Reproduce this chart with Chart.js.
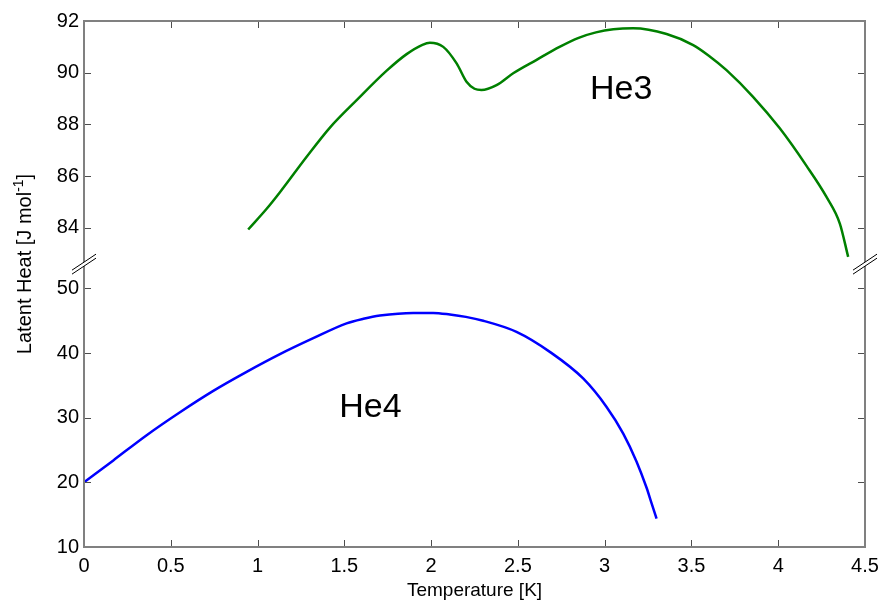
<!DOCTYPE html>
<html>
<head>
<meta charset="utf-8">
<script src="https://cdn.jsdelivr.net/npm/chart.js@4/dist/chart.umd.min.js"></script>
<style>
body { margin: 0; background: #fff; }
#cvs { display: block; }
</style>
</head>
<body>
<canvas id="cvs" width="883" height="605"></canvas>
<script>
// He3 curve (upper panel)
var he3Temp = [0.946, 1.05, 1.129, 1.283, 1.417, 1.571, 1.744, 1.859, 1.95, 1.993, 2.07, 2.147, 2.204, 2.25, 2.29, 2.377, 2.473, 2.608, 2.74, 2.85, 2.95, 3.05, 3.164, 3.357, 3.51, 3.6, 3.702, 3.855, 4.009, 4.163, 4.278, 4.355, 4.403];
var he3Heat = [83.94, 84.72, 85.38, 86.75, 87.88, 88.94, 90.08, 90.72, 91.08, 91.16, 91.0, 90.36, 89.65, 89.38, 89.33, 89.52, 89.98, 90.5, 91.0, 91.35, 91.56, 91.68, 91.72, 91.5, 91.07, 90.66, 90.1, 89.07, 87.85, 86.4, 85.2, 84.17, 82.88];
// He4 curve (lower panel)
var he4Temp = [0, 0.169, 0.361, 0.553, 0.745, 0.937, 1.129, 1.321, 1.513, 1.61, 1.705, 1.897, 2.012, 2.108, 2.2, 2.30, 2.492, 2.684, 2.876, 3.011, 3.107, 3.184, 3.241, 3.27, 3.299];
var he4Heat = [20.0, 23.4, 27.3, 30.85, 34.15, 37.09, 39.83, 42.3, 44.6, 45.3, 45.8, 46.22, 46.22, 45.97, 45.6, 45.0, 43.28, 40.19, 36.07, 31.67, 27.55, 23.2, 19.2, 16.8, 14.40];

var xTicks = [0, 0.5, 1, 1.5, 2, 2.5, 3, 3.5, 4, 4.5];
var yLowTicks = [10, 20, 30, 40, 50];
var yHighTicks = [84, 86, 88, 90, 92];

var labels = [
	{ text: "He3", x: 2.915, y: 89.0, axis: "yHi" },
	{ text: "He4", x: 1.471, y: 30.1, axis: "yLo" }
];

function pts(xs, ys) {
	return xs.map(function (x, i) { return { x: x, y: ys[i] }; });
}

var FONT = "'Liberation Sans', Arial, sans-serif";
var AXIS_COL = "#808080";
var TICK_COL = "#4d4d4d";

// box, inward ticks, axis break marks, text
var decor = {
	id: "decor",
	afterDraw: function (chart) {
		var ctx = chart.ctx;
		var a = chart.chartArea;
		var xs = chart.scales.x, lo = chart.scales.yLo, hi = chart.scales.yHi;
		ctx.save();

		ctx.strokeStyle = TICK_COL;
		ctx.lineWidth = 1;
		ctx.beginPath();
		xTicks.forEach(function (v) {
			var px = Math.round(xs.getPixelForValue(v)) + 0.5;
			ctx.moveTo(px, a.bottom); ctx.lineTo(px, a.bottom - 7);
			ctx.moveTo(px, a.top); ctx.lineTo(px, a.top + 7);
		});
		yLowTicks.forEach(function (v) {
			var py = Math.round(lo.getPixelForValue(v)) + 0.5;
			ctx.moveTo(a.left, py); ctx.lineTo(a.left + 7, py);
			ctx.moveTo(a.right, py); ctx.lineTo(a.right - 7, py);
		});
		yHighTicks.forEach(function (v) {
			var py = Math.round(hi.getPixelForValue(v)) + 0.5;
			ctx.moveTo(a.left, py); ctx.lineTo(a.left + 7, py);
			ctx.moveTo(a.right, py); ctx.lineTo(a.right - 7, py);
		});
		ctx.stroke();

		ctx.strokeStyle = AXIS_COL;
		ctx.lineWidth = 2;
		ctx.strokeRect(a.left, a.top, a.right - a.left, a.bottom - a.top);

		// break marks where the two y scales meet
		var yb = hi.bottom;
		[a.left, a.right].forEach(function (cx) {
			ctx.fillStyle = "#fff";
			ctx.beginPath();
			ctx.moveTo(cx - 12, yb + 6); ctx.lineTo(cx + 12, yb - 10);
			ctx.lineTo(cx + 12, yb - 6); ctx.lineTo(cx - 12, yb + 10);
			ctx.closePath();
			ctx.fill();
			ctx.strokeStyle = "#000";
			ctx.lineWidth = 1;
			ctx.beginPath();
			ctx.moveTo(cx - 12, yb + 6); ctx.lineTo(cx + 12, yb - 10);
			ctx.moveTo(cx - 12, yb + 10); ctx.lineTo(cx + 12, yb - 6);
			ctx.stroke();
		});

		ctx.fillStyle = "#000";
		ctx.font = "34px " + FONT;
		ctx.textAlign = "left";
		ctx.textBaseline = "alphabetic";
		labels.forEach(function (l) {
			ctx.fillText(l.text, xs.getPixelForValue(l.x), chart.scales[l.axis].getPixelForValue(l.y));
		});

		// y title with superscript
		ctx.translate(31, 264);
		ctx.rotate(-Math.PI / 2);
		var main = "Latent Heat [J mol", sup = "-1", tail = "]";
		ctx.font = "14px " + FONT;
		var wSup = ctx.measureText(sup).width;
		ctx.font = "20px " + FONT;
		var wMain = ctx.measureText(main).width, wTail = ctx.measureText(tail).width;
		var x0 = -(wMain + wSup + wTail) / 2;
		ctx.fillText(main, x0, 0);
		ctx.font = "14px " + FONT;
		ctx.fillText(sup, x0 + wMain, -8);
		ctx.font = "20px " + FONT;
		ctx.fillText(tail, x0 + wMain + wSup, 0);
		ctx.restore();
	}
};

function setTicks(list) {
	return function (scale) {
		scale.ticks = list.map(function (v) { return { value: v }; });
	};
}

var config = {
	type: "line",
	data: {
		datasets: [{
			label: "He3",
			data: pts(he3Temp, he3Heat),
			yAxisID: "yHi",
			borderColor: "rgb(0,128,0)",
			borderWidth: 2.5,
			pointRadius: 0,
			cubicInterpolationMode: "monotone",
			fill: false
		}, {
			label: "He4",
			data: pts(he4Temp, he4Heat),
			yAxisID: "yLo",
			borderColor: "rgb(0,0,255)",
			borderWidth: 2.5,
			pointRadius: 0,
			cubicInterpolationMode: "monotone",
			fill: false
		}]
	},
	options: {
		responsive: false,
		animation: false,
		layout: { padding: { top: 21, right: 18, left: 0, bottom: 0 } },
		plugins: { legend: { display: false }, tooltip: { enabled: false } },
		scales: {
			x: {
				type: "linear",
				min: 0,
				max: 4.5,
				afterBuildTicks: setTicks(xTicks),
				afterFit: function (s) { s.height = 58; s.paddingLeft = 0; s.paddingRight = 0; },
				grid: { display: false, drawTicks: false },
				border: { display: false },
				ticks: {
					autoSkip: false, maxRotation: 0, padding: 7,
					color: "#000", font: { family: FONT, size: 20 },
					callback: function (v) { return String(v); }
				},
				title: {
					display: true, text: "Temperature [K]", color: "#000",
					font: { family: FONT, size: 19 }, padding: { top: 0, bottom: 3 }
				}
			},
			yLo: {
				type: "linear",
				position: "left",
				stack: "lat",
				stackWeight: 282.7,
				min: 10,
				max: 53.76,
				afterBuildTicks: setTicks(yLowTicks),
				afterFit: function (s) { s.width = 84; },
				grid: { display: false, drawTicks: false },
				border: { display: false },
				ticks: { padding: 5, color: "#000", font: { family: FONT, size: 20 } }
			},
			yHi: {
				type: "linear",
				position: "left",
				stack: "lat",
				stackWeight: 243,
				min: 82.6,
				max: 92,
				afterBuildTicks: setTicks(yHighTicks),
				afterFit: function (s) { s.width = 84; },
				grid: { display: false, drawTicks: false },
				border: { display: false },
				ticks: { padding: 5, color: "#000", font: { family: FONT, size: 20 } }
			}
		}
	},
	plugins: [decor]
};

var chart = new Chart("cvs", config);
</script>
</body>
</html>
